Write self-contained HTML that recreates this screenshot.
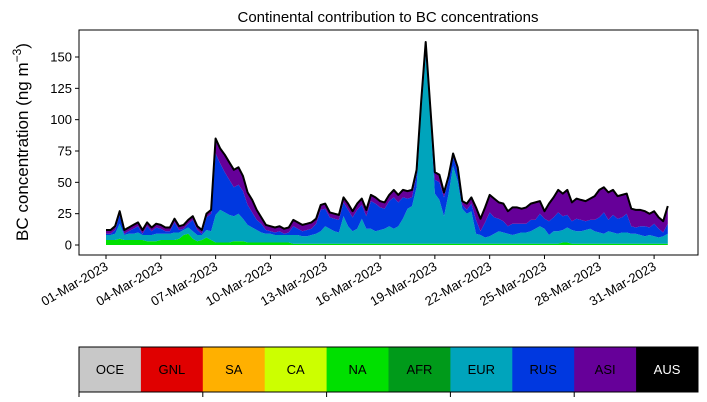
<!DOCTYPE html>
<html><head><meta charset="utf-8"><style>
body{margin:0;background:#fff}
svg{display:block;font-family:"Liberation Sans",sans-serif}
</style></head><body>
<svg id="c" width="707" height="402"></svg>
<script>
const regions=["OCE","GNL","SA","CA","NA","AFR","EUR","RUS","ASI","AUS"];
const regionColors=["#c8c8c8","#e00000","#ffb000","#ccff00","#00e000","#009a1a","#00a4bc","#0038e0","#660099","#000000"];
const yTicks=[0,25,50,75,100,125,150];
const xTickLabels=["01-Mar-2023","04-Mar-2023","07-Mar-2023","10-Mar-2023","13-Mar-2023","16-Mar-2023","19-Mar-2023","22-Mar-2023","25-Mar-2023","28-Mar-2023","31-Mar-2023"];
const xTickDays=[0,3,6,9,12,15,18,21,24,27,30];
// 6-hourly values starting 01-Mar-2023 00:00
const seriesNA=[4,4,4,5,4,4,4,4,4,3,3,3,4,4,4,4,5,8,9,5,3,4,6,4,
2,2,2,2,3,3,3,2,2,2,2,2,2,2,2,2,2,
1,1,1,1,1,1,1,1,1,1,1,1,1,1,1,1,1,1,1,1,1,1,1,1,1,1,1,
1,1,1,1,1,1,1,1,1,1,1,1,1,
1,1,1,1,1,1,1,1,1,1,1,1,1,1,1,1,1,1,1,2,2,1,1,1,1,1,1,1,1,1,1,1,1,1,1,1,1,1,1,1,1,1,1];
const seriesEUR=[4,4,5,12,4,5,5,6,4,5,5,6,5,5,5,6,5,4,5,6,5,4,6,7,
22,26,24,22,20,22,18,14,12,10,8,
7,7,6,6,6,6,7,7,6,6,7,
8,10,14,12,10,9,22,14,10,12,20,12,12,10,11,12,14,12,14,20,28,30,
45,105,150,100,40,35,22,40,62,50,28,24,26,
8,7,5,6,8,10,9,8,7,8,9,9,10,12,14,12,7,10,10,10,12,11,10,10,11,12,10,9,8,10,9,8,9,9,8,8,7,6,7,6,5,6,8];
const seriesRUS=[1,1,3,7,1,2,4,5,1,7,3,5,4,2,2,8,2,1,3,9,4,1,10,14,
49,37,32,28,23,23,22,16,12,8,7,3,2,2,3,1,2,
7,5,4,5,5,8,17,14,9,10,10,11,13,11,15,11,10,22,22,18,16,20,25,19,17,8,7,
10,6,8,6,11,14,15,11,7,8,3,3,6,
11,3,12,19,13,10,9,6,9,8,7,7,9,7,10,8,11,11,15,11,10,7,10,9,7,7,9,12,17,9,14,12,12,15,6,5,7,8,6,10,7,3,8];
const seriesASI=[3,3,3,3,3,3,3,3,3,3,3,3,3,3,3,3,3,3,3,3,3,3,3,3,
12,12,14,14,14,14,12,10,10,8,
5,4,4,4,4,4,4,5,5,5,5,5,
4,4,4,4,4,4,4,5,5,5,5,5,5,5,5,5,5,6,6,6,6,6,
4,3,3,3,6,6,4,3,3,3,3,5,5,
10,10,12,14,15,13,14,12,13,13,12,13,13,14,10,6,
14,16,18,18,20,15,16,16,16,17,19,22,20,22,20,18,18,16,14,14,13,12,11,10,9,9,14];
const stackSeries=[seriesNA,seriesEUR,seriesRUS,seriesASI];
const stackColors=["#00e000","#00a4bc","#0038e0","#660099"];
const stackNames=["area-na","area-eur","area-rus","area-asi"];

const NS="http://www.w3.org/2000/svg";
const svg=document.getElementById('c');
const L=79,R=698,T=30,B=255;
const x=d=>106+d*18.27;
const y=v=>245-v*1.2533;
function mk(t,a,p){const e=document.createElementNS(NS,t);for(const k in a)e.setAttribute(k,a[k]);(p||svg).appendChild(e);return e;}

const plot=mk('g',{});


const n=seriesNA.length;
let base=new Array(n).fill(0);
stackSeries.forEach((s,k)=>{
  const top=base.map((b,i)=>b+s[i]);
  let pts=[];
  for(let i=0;i<n;i++)pts.push(x(i/4).toFixed(1)+','+y(top[i]).toFixed(1));
  for(let i=n-1;i>=0;i--)pts.push(x(i/4).toFixed(1)+','+y(base[i]).toFixed(1));
  const p=mk('polygon',{points:pts.join(' '),fill:stackColors[k]},plot);
  
  
  base=top;
});
let lp=[];for(let i=0;i<n;i++)lp.push(x(i/4).toFixed(1)+','+y(base[i]).toFixed(1));
const tl=mk('polyline',{points:lp.join(' '),fill:'none',stroke:'#000','stroke-width':2,'stroke-linejoin':'round'},plot);



const fr=mk('rect',{x:L,y:T,width:R-L,height:B-T,fill:'none',stroke:'#000','stroke-width':1});



yTicks.forEach(v=>{
  mk('line',{x1:L-4,x2:L,y1:y(v),y2:y(v),stroke:'#000'});
  const t=mk('text',{x:L-7,y:y(v)+4.5,'text-anchor':'end','font-size':13});
  t.textContent=v;
  
  
});
xTickDays.forEach((d,i)=>{
  const xx=x(d);
  mk('line',{x1:xx,x2:xx,y1:B,y2:B+4,stroke:'#000'});
  const t=mk('text',{x:xx+3,y:B+14,'text-anchor':'end','font-size':13,transform:`rotate(-30 ${xx+3} ${B+14})`});
  t.textContent=xTickLabels[i];
  
  
});
const ti=mk('text',{x:388,y:22,'text-anchor':'middle','font-size':15});
ti.textContent='Continental contribution to BC concentrations';


const yl=mk('text',{x:28,y:142,'text-anchor':'middle','font-size':17,transform:'rotate(-90 28 142)'});
yl.innerHTML='BC concentration (ng m<tspan dy="-7" font-size="12">−3</tspan><tspan dy="7">)</tspan>';



const cb=mk('g',{});


const cw=(R-L)/regions.length;
regions.forEach((r,i)=>{
  const c=mk('rect',{x:L+i*cw,y:347,width:cw+0.5,height:45,fill:regionColors[i]},cb);
  
  
  const t=mk('text',{x:L+i*cw+cw/2,y:374,'text-anchor':'middle','font-size':13,fill:i==9?'#fff':'#000'},cb);
  t.textContent=r;
  
  
});
mk('rect',{x:L,y:347,width:R-L,height:45,fill:'none',stroke:'#000'},cb);
for(let i=0;i<regions.length;i+=2){mk('line',{x1:L+i*cw,x2:L+i*cw,y1:392,y2:397,stroke:'#000'},cb);}
</script>
</body></html>
